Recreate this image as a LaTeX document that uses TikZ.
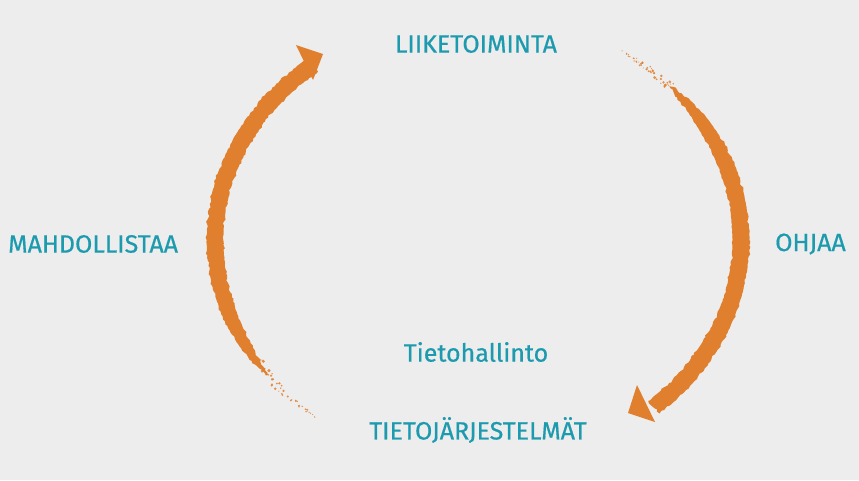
\documentclass[tikz,border=0pt]{standalone}
\usepackage{fontspec}
\newfontfamily\lblfont{Fira Sans}[FakeBold=0.5]
\usetikzlibrary{decorations.pathmorphing}
\definecolor{bg}{HTML}{EDEDED}
\definecolor{teal}{HTML}{1C9AAE}
\definecolor{brush}{HTML}{E07F2D}
\begin{document}
\begin{tikzpicture}[x=1pt,y=-1pt,
  lbl/.style={text=teal,font=\lblfont\fontsize{25}{27}\selectfont,inner sep=0pt},
  rough/.style={decorate,decoration={random steps,segment length=2.5pt,amplitude=1.3pt}},
  declare function={
    wl(\t)=17*(1-exp(-(\t-143)/9));
    wr(\t)=17*(1-exp(-(\t+44)/9));
    ex(\t,\s)=478+(263+\s)*cos(\t);
    ey(\t,\s)=240+(225+\s)*sin(\t);
  }]
\useasboundingbox[fill=bg] (0,0) rectangle (859,480);
\pgfmathsetseed{7}
% left arc (upwards)
\fill[brush,rough] plot[domain=143:231,samples=70] ({ex(\x,wl(\x)/2)},{ey(\x,wl(\x)/2)})
  -- plot[domain=231:143,samples=70] ({ex(\x,-wl(\x)/2)},{ey(\x,-wl(\x)/2)}) -- cycle;
\fill[brush] (296,45) -- (323,54) -- (313,80) -- cycle;
% right arc (downwards)
\fill[brush,rough] plot[domain=-44:48,samples=70] ({ex(\x,wr(\x)/2)},{ey(\x,wr(\x)/2)})
  -- plot[domain=48:-44,samples=70] ({ex(\x,-wr(\x)/2)},{ey(\x,-wr(\x)/2)}) -- cycle;
\fill[brush] (637,385) -- (628,413) -- (655,422) -- cycle;
% speckles at faded ends
\foreach \i in {1,...,45}{
  \pgfmathsetmacro\tt{128+19*rnd}
  \pgfmathsetmacro\oo{(rnd-0.5)*(\tt-124)*0.5}
  \pgfmathsetmacro\rr{0.5+rnd*(\tt-126)/14}
  \fill[brush,opacity=0.85] ({ex(\tt,\oo)},{ey(\tt,\oo)}) circle (\rr);
}
\foreach \i in {1,...,45}{
  \pgfmathsetmacro\tt{-57+14*rnd}
  \pgfmathsetmacro\oo{(rnd-0.5)*(\tt+61)*0.5}
  \pgfmathsetmacro\rr{0.5+rnd*(\tt+59)/11}
  \fill[brush,opacity=0.85] ({ex(\tt,\oo)},{ey(\tt,\oo)}) circle (\rr);
}
% labels
\node[lbl] (liik) at (476,44) {LIIKETOIMINTA};
\node[lbl,anchor=west] (mahd) at (8,244) {MAHDOLLISTAA};
\node[lbl,anchor=east] (ohj) at (846,244) {OHJAA};
\node[lbl] (tieto) at (476,352) {Tietohallinto};
\node[lbl] (tj) at (478,430) {TIETOJÄRJESTELMÄT};
\end{tikzpicture}
\end{document}
